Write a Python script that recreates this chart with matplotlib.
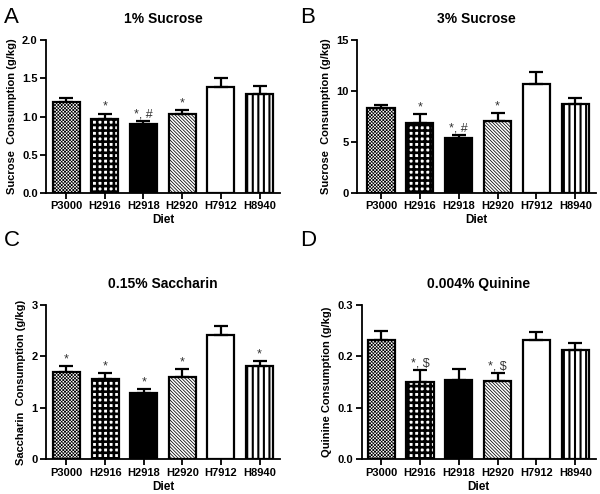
import numpy as np
import matplotlib
matplotlib.use('Agg')
import matplotlib.pyplot as plt

plt.rcParams['font.family'] = ['Liberation Sans', 'DejaVu Sans']

diets = ['P3000', 'H2916', 'H2918', 'H2920', 'H7912', 'H8940']

suc1_mean = [1.19, 0.97, 0.90, 1.03, 1.39, 1.30]
suc1_sem = [0.05, 0.07, 0.04, 0.05, 0.11, 0.095]
suc1_sig = ['', '*', '*, #', '*', '', '']

suc3_mean = [8.33, 6.90, 5.44, 7.03, 10.72, 8.71]
suc3_sem = [0.32, 0.87, 0.26, 0.81, 1.14, 0.65]
suc3_sig = ['', '*', '*, #', '*', '', '']

sac_mean = [1.70, 1.57, 1.29, 1.60, 2.42, 1.81]
sac_sem = [0.11, 0.11, 0.07, 0.16, 0.17, 0.10]
sac_sig = ['*', '*', '*', '*', '', '*']

qui_mean = [0.232, 0.150, 0.154, 0.152, 0.232, 0.212]
qui_sem = [0.017, 0.024, 0.022, 0.016, 0.015, 0.015]
qui_sig = ['', '*, $', '', '*, $', '', '']

# fill style per diet: (facecolor, hatch, hatch linewidth)
styles = [('white', 'x' * 10, 0.5),
          ('white', '+++', 1.9),
          ('black', None, 1.0),
          ('white', '\\' * 10, 0.55),
          ('white', None, 1.0),
          ('white', '|||', 1.5)]

panels = [
    ('A', '1% Sucrose', 'Sucrose  Consumption (g/kg)', suc1_mean, suc1_sem, suc1_sig,
     [0.0767, 0.609, 0.39, 0.31], 2.0, [0, 0.5, 1.0, 1.5, 2.0], '%.1f', -0.52),
    ('B', '3% Sucrose', 'Sucrose  Consumption (g/kg)', suc3_mean, suc3_sem, suc3_sig,
     [0.595, 0.609, 0.398, 0.31], 15, [0, 5, 10, 15], '%d', -0.62),
    ('C', '0.15% Saccharin', 'Saccharin  Consumption (g/kg)', sac_mean, sac_sem, sac_sig,
     [0.0767, 0.070, 0.39, 0.3126], 3, [0, 1, 2, 3], '%d', -0.53),
    ('D', '0.004% Quinine', 'Quinine Consumption (g/kg)', qui_mean, qui_sem, qui_sig,
     [0.603, 0.070, 0.39, 0.3126], 0.3, [0, 0.1, 0.2, 0.3], '%.1f', -0.5),
]

fig = plt.figure(figsize=(6, 4.94), dpi=100)
x = np.arange(len(diets))

for letter, title, ylabel, mean, sem, sig, rect, ymax, yticks, fmt, xleft in panels:
    ax = fig.add_axes(rect)
    for i in range(len(diets)):
        fc, hatch, hlw = styles[i]
        with plt.rc_context({'hatch.linewidth': hlw}):
            bars = ax.bar(x[i], mean[i], width=0.7, color=fc, edgecolor='black',
                          linewidth=1.6, hatch=hatch, zorder=2)
            for b in bars:
                if hasattr(b, 'set_hatch_linewidth'):
                    b.set_hatch_linewidth(hlw)
    ax.errorbar(x, mean, yerr=[np.zeros(len(sem)), sem], fmt='none', ecolor='black',
                elinewidth=1.6, capsize=5, capthick=1.6, zorder=3)
    for i, s in enumerate(sig):
        if s:
            ax.annotate(s, (x[i], mean[i] + sem[i]), xytext=(0, 0.5), textcoords='offset points',
                        ha='center', va='bottom', fontsize=9, color='#333333')
    ax.set_xlim(xleft, 5.53)
    ax.set_ylim(0, ymax)
    ax.set_yticks(yticks)
    ax.set_yticklabels([fmt % v for v in yticks])
    ax.set_xticks(x)
    ax.set_xticklabels(diets)
    for sp in ['top', 'right']:
        ax.spines[sp].set_visible(False)
    for sp in ['left', 'bottom']:
        ax.spines[sp].set_linewidth(1.3)
    ax.tick_params(width=1.3, length=4, labelsize=8, pad=2)
    for lab in ax.get_xticklabels() + ax.get_yticklabels():
        lab.set_fontweight('bold')
    ax.set_title(title, fontsize=10, fontweight='bold', pad=12)
    ax.set_xlabel('Diet', fontsize=8.5, fontweight='bold', labelpad=2)
    ax.set_ylabel(ylabel, fontsize=8, fontweight='bold', labelpad=4)

fig.text(0.006, 0.965, 'A', fontsize=16, va='center')
fig.text(0.501, 0.965, 'B', fontsize=16, va='center')
fig.text(0.006, 0.513, 'C', fontsize=16, va='center')
fig.text(0.501, 0.513, 'D', fontsize=16, va='center')

fig.savefig('out.png', dpi=100)
